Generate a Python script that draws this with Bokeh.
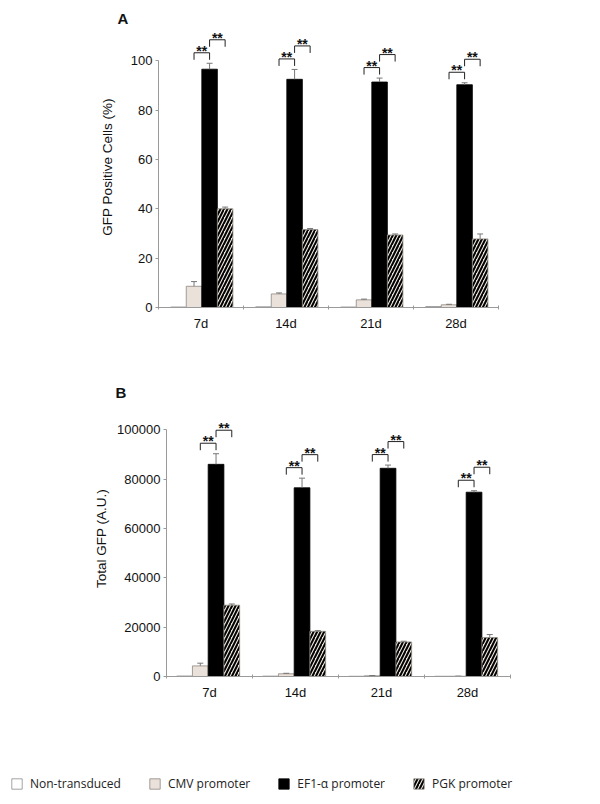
from bokeh.plotting import figure
from bokeh.models import (FixedTicker, NumeralTickFormatter, Legend,
                          LegendItem, Range1d, Title)
from bokeh.layouts import column
from bokeh.embed import file_html
from bokeh.resources import INLINE
from bokeh.core.properties import value

# ---------------- data ----------------
days = ["7d", "14d", "21d", "28d"]
series_names = ["Non-transduced", "CMV promoter", "EF1-\u03b1 promoter", "PGK promoter"]

# Panel A: GFP positive cells (%)
nt_a = [0.2, 0.3, 0.2, 0.4]
cmv_a = [8.6, 5.5, 3.1, 1.1]
cmv_a_err = [1.9, 0.4, 0.3, 0.2]
ef1_a = [96.6, 92.5, 91.4, 90.3]
ef1_a_err = [2.4, 4.0, 1.6, 0.8]
pgk_a = [40.0, 31.6, 29.4, 27.8]
pgk_a_err = [0.7, 0.4, 0.4, 2.0]
ticks_a = [0, 20, 40, 60, 80, 100]

# Panel B: Total GFP (A.U.)
nt_b = [200, 150, 100, 100]
cmv_b = [4300, 1100, 300, 100]
cmv_b_err = [1100, 200, 100, 50]
ef1_b = [86000, 76500, 84400, 74700]
ef1_b_err = [4300, 3900, 1300, 600]
pgk_b = [28900, 18300, 14000, 15800]
pgk_b_err = [500, 300, 300, 1200]
ticks_b = [0, 20000, 40000, 60000, 80000, 100000]

stars = ["**", "**", "**", "**"]

# ---------------- styles ----------------
FONT = "Liberation Sans"
AXIS_COL = "#9a9a9a"
ERR_COL = "#777777"
styles = [
    dict(fill_color="white", line_color="#8c8c8c", line_width=0.8),
    dict(fill_color="#e9e1da", line_color="#8e8882", line_width=0.8),
    dict(fill_color="black", line_color="black", line_width=0.8),
    dict(fill_color="#ece6dd", line_color="#8e8882", line_width=0.8,
         hatch_pattern="/", hatch_color="black", hatch_weight=2.0, hatch_scale=7),
]


def make_panel(letter, ylabel, series, errs, ticks, ymax, y_end, px_per_unit,
               width, height, mb_left, mb_right, mb_top, mb_bottom, start_off,
               title_offset, ylabel_standoff, formatter=None):
    n = len(days)
    p = figure(width=width, height=height, output_backend="svg",
               toolbar_location=None, x_range=Range1d(0, n),
               y_range=Range1d(0, y_end), min_border_left=mb_left,
               min_border_right=mb_right, min_border_top=mb_top,
               min_border_bottom=mb_bottom)
    p.frame_align = False
    p.outline_line_color = None
    p.xgrid.visible = False
    p.ygrid.visible = False
    p.background_fill_color = "white"
    p.border_fill_color = "white"
    p.title = Title(text=letter, align="left", offset=title_offset,
                    text_font=FONT, text_font_style="bold",
                    text_font_size="15px", text_color="#111111", standoff=0)

    bw = 0.183
    xs_all = []
    for k, (vals, st) in enumerate(zip(series, styles)):
        xs = [i + start_off + k * bw for i in range(n)]
        xs_all.append(xs)
        p.vbar(x=xs, top=vals, bottom=0, width=bw, **st)

    # error bars (upper only)
    cap = 0.035
    for k in (1, 2, 3):
        xs = xs_all[k]
        vals = series[k]
        e = errs[k - 1]
        tops = [v + d for v, d in zip(vals, e)]
        p.segment(x0=xs, y0=vals, x1=xs, y1=tops, line_color=ERR_COL, line_width=1)
        p.segment(x0=[x - cap for x in xs], y0=tops, x1=[x + cap for x in xs],
                  y1=tops, line_color=ERR_COL, line_width=1)

    # significance brackets
    ef1_top = [v + d for v, d in zip(series[2], errs[1])]
    d1 = 10.5 / px_per_unit
    d2 = 23.5 / px_per_unit
    drop = 7.0 / px_per_unit
    xl, xl2 = [], []
    yl, yl2 = [], []
    mids1, mids2, ys1, ys2 = [], [], [], []
    for i in range(n):
        y1 = ef1_top[i] + d1
        y2 = ef1_top[i] + d2
        xa, xb, xc = xs_all[1][i], xs_all[2][i], xs_all[3][i]
        xl.append([xa, xa, xb, xb])
        yl.append([y1 - drop, y1, y1, y1 - drop])
        xl2.append([xb, xb, xc, xc])
        yl2.append([y2 - drop, y2, y2, y2 - drop])
        mids1.append((xa + xb) / 2)
        mids2.append((xb + xc) / 2)
        ys1.append(y1)
        ys2.append(y2)
    p.multi_line(xs=xl + xl2, ys=yl + yl2, line_color="#222222", line_width=1)
    for mx, my in ((mids1, ys1), (mids2, ys2)):
        p.text(x=mx, y=my, text=stars, text_font=value(FONT),
               text_font_style="bold", text_font_size="14px",
               text_align="center", text_baseline="middle", y_offset=-2,
               text_color="#111111")

    # y axis
    ya = p.yaxis[0]
    ya.ticker = FixedTicker(ticks=ticks)
    ya.bounds = (0, ymax)
    ya.axis_line_color = AXIS_COL
    ya.major_tick_line_color = AXIS_COL
    ya.major_tick_in = 0
    ya.major_tick_out = 3
    ya.minor_tick_line_color = None
    ya.major_label_text_font = FONT
    ya.major_label_text_font_size = "13px"
    ya.major_label_text_color = "#111111"
    ya.major_label_standoff = 3
    ya.axis_label = ylabel
    ya.axis_label_text_font = FONT
    ya.axis_label_text_font_size = "13.5px"
    ya.axis_label_text_font_style = "normal"
    ya.axis_label_text_color = "#111111"
    ya.axis_label_standoff = ylabel_standoff
    if formatter is not None:
        ya.formatter = formatter

    # x axis
    xa = p.xaxis[0]
    centers = [i + 0.5 for i in range(n)]
    xa.ticker = FixedTicker(ticks=centers, minor_ticks=list(range(n + 1)))
    xa.major_label_overrides = {c: d for c, d in zip(centers, days)}
    xa.axis_line_color = AXIS_COL
    xa.major_tick_line_color = None
    xa.major_tick_out = 0
    xa.major_tick_in = 0
    xa.minor_tick_line_color = AXIS_COL
    xa.minor_tick_in = 2
    xa.minor_tick_out = 2
    xa.major_label_text_font = FONT
    xa.major_label_text_font_size = "13px"
    xa.major_label_text_color = "#111111"
    xa.major_label_standoff = 6
    return p


pA = make_panel("A", "GFP Positive Cells (%)",
                [nt_a, cmv_a, ef1_a, pgk_a], [cmv_a_err, ef1_a_err, pgk_a_err],
                ticks_a, 100, 281 / 2.467, 2.467,
                584, 350, 158, 86, 26, 43, 0.235, -41, 13)

pB = make_panel("B", "Total GFP (A.U.)",
                [nt_b, cmv_b, ef1_b, pgk_b], [cmv_b_err, ef1_b_err, pgk_b_err],
                ticks_b, 100000, 276 / 2.467e-3, 2.467e-3,
                584, 370, 166, 74, 50, 44, 0.21, -51, 5,
                formatter=NumeralTickFormatter(format="0"))

# legend panel
lf = figure(width=584, height=76, output_backend="svg", toolbar_location=None,
            x_range=Range1d(0, 1), y_range=Range1d(0, 1), x_axis_type=None,
            y_axis_type=None, min_border=0, min_border_left=0,
            min_border_right=0, min_border_top=0, min_border_bottom=0)
lf.frame_align = False
lf.outline_line_color = None
lf.xgrid.visible = False
lf.ygrid.visible = False
items = []
for name, st in zip(series_names, styles):
    r = lf.vbar(x=[-5], top=[0], width=0.1, **st)
    items.append(LegendItem(label=name, renderers=[r]))
leg = Legend(items=items, location=(10, 4), orientation="horizontal",
             glyph_width=13, glyph_height=13, label_height=13,
             label_standoff=7, spacing=27, padding=0, margin=0,
             border_line_color=None, background_fill_alpha=0,
             label_text_font="Open Sans", label_text_font_size="12px",
             label_text_color="#222222")
lf.add_layout(leg)

layout = column(pA, pB, lf, spacing=0)
open("out.html", "w").write(file_html(layout, INLINE))
